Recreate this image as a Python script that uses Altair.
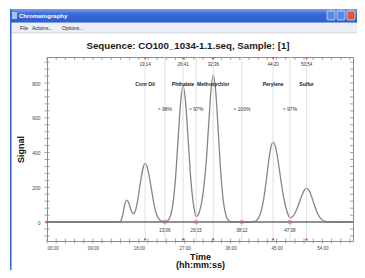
import altair as alt
import pandas as pd

# ---------------- data ----------------
time_min = [0, 14.0, 14.4, 14.8, 15.2, 15.6, 16.0, 16.4, 16.9, 17.3, 17.7, 18.1, 18.5, 18.9,
            19.25, 19.6, 20.0, 20.5, 21.0, 21.5, 22.0, 22.5, 23.1, 23.7, 24.2, 24.7, 25.2,
            25.7, 26.2, 26.68, 27.2, 27.7, 28.2, 28.7, 29.0, 29.25, 29.5, 29.9, 30.3, 30.7,
            31.2, 31.7, 32.2, 32.6, 33.1, 33.6, 34.1, 34.6, 35.1, 35.6, 36.1, 37.0, 40.0,
            40.5, 41.0, 41.5, 42.0, 42.5, 43.0, 43.5, 44.0, 44.33, 44.8, 45.3, 45.8, 46.3,
            46.8, 47.2, 47.63, 48.0, 48.5, 49.0, 49.5, 50.0, 50.5, 50.9, 51.4, 51.9, 52.4,
            52.9, 53.4, 53.9, 54.4, 55.0, 55.5, 60.0]
signal = [0, 0, 4, 35, 95, 126, 112, 75, 48, 62, 110, 185, 260, 318,
          338, 320, 270, 185, 100, 42, 15, 5, 2, 9, 34, 106, 253,
          473, 688, 785, 680, 465, 245, 105, 55, 32, 35, 60, 110, 190,
          340, 560, 770, 845, 746, 513, 274, 114, 37, 9, 2, 0, 0,
          2, 8, 25, 63, 135, 241, 358, 442, 460, 433, 355, 254, 159,
          88, 48, 25, 28, 45, 75, 115, 155, 185, 195, 181, 145, 100,
          60, 31, 14, 5, 2, 0, 0]

peak_names = ["Corn Oil", "Phthalate", "Methoxychlor", "Perylene", "Sulfur"]
peak_times = [19.23, 26.68, 32.6, 44.33, 50.9]
peak_time_labels = ["19:14", "26:41", "32:36", "44:20", "50:54"]
valley_times = [23.1, 29.25, 38.2, 47.63]
valley_time_labels = ["23:06", "29:15", "38:12", "47:38"]
purity_labels = ["> 98%", "> 97%", "> 100%", "> 97%"]

x_tick_values = [0, 9, 18, 27, 36, 45, 54]
x_tick_labels = ["00:00", "09:00", "18:00", "27:00", "36:00", "45:00", "54:00"]
y_tick_values = [0, 200, 400, 600, 800]
x_minor_step = 1.8
y_minor_step = 40

title_text = "Sequence: CO100_1034-1.1.seq, Sample: [1]"
window_title = "Chromatography"
menu_items = ["File", "Actions...", "Options..."]

# ---------------- tables ----------------
W, H = 306, 184
FONT = "Liberation Sans"

curve = pd.DataFrame({"t": time_min, "v": signal})
peaks = pd.DataFrame({"t": peak_times, "name": peak_names, "lab": peak_time_labels})
valleys = pd.DataFrame({"t": valley_times, "lab": valley_time_labels,
                        "pct": purity_labels, "v": [0] * len(valley_times)})
marks_t = pd.DataFrame({"t": peak_times + valley_times})
x_minor = pd.DataFrame({"t": [round(i * x_minor_step, 2) for i in range(int(60 / x_minor_step) + 1)]})
y_minor = pd.DataFrame({"v": list(range(-80, 950, y_minor_step))})
zero = pd.DataFrame({"v": [0], "t": [0]})
one = pd.DataFrame({"k": [0]})

xs = alt.Scale(domain=[0, 60], nice=False, zero=False)
ys = alt.Scale(domain=[-109, 950], nice=False, zero=False)

arr_vals = "[" + ",".join(str(v) for v in x_tick_values) + "]"
arr_labs = "[" + ",".join("'" + s + "'" for s in x_tick_labels) + "]"
x_label_expr = f"{arr_labs}[indexof({arr_vals}, datum.value)]"

x_axis = alt.Axis(
    values=x_tick_values, labelExpr=x_label_expr, ticks=False, domain=False,
    grid=False, labelFontSize=4.5, labelColor="#444", labelPadding=4, labelFont=FONT,
    title=["Time", "(hh:mm:ss)"], titleFont=FONT, titleFontSize=9, titleFontWeight="bold",
    titleColor="#111", titleX=W / 2, titleY=18, titleBaseline="alphabetic", titleAlign="center",
    titleLineHeight=8.5)
y_axis = alt.Axis(
    values=y_tick_values, ticks=False, domain=False, grid=False,
    labelFontSize=5, labelColor="#444", labelPadding=7, labelFont=FONT,
    title="Signal", titleFont=FONT, titleFontSize=9, titleFontWeight="bold", titleColor="#111",
    titleAngle=270, titleX=-27, titleY=H / 2, titleAlign="center", titleBaseline="middle")


def X(f="t"):
    return alt.X(f"{f}:Q", scale=xs, axis=x_axis)


def Y(f="v"):
    return alt.Y(f"{f}:Q", scale=ys, axis=y_axis)


# vertical guide lines at peaks and valleys
vlines = alt.Chart(marks_t).mark_rule(color="#d9d9d9", strokeWidth=0.8).encode(x=X())

# baseline
baseline = alt.Chart(zero).mark_rule(color="#6e6e6e", strokeWidth=1.6).encode(y=Y())

# chromatogram curve
line = alt.Chart(curve).mark_line(color="#858585", strokeWidth=1.3, interpolate="monotone").encode(
    x=X(), y=Y())

# red markers
top_marks = alt.Chart(peaks).mark_point(shape="triangle-down", filled=True, size=10,
                                        color="#e0404a", opacity=1).encode(x=X(), y=alt.value(1.5))
bot_marks = alt.Chart(peaks).mark_point(shape="triangle-up", filled=True, size=10,
                                        color="#e0404a", opacity=1).encode(x=X(), y=alt.value(H - 2))
valley_marks = alt.Chart(valleys).mark_point(shape="circle", filled=False, size=14,
                                             color="#e06070", strokeWidth=0.9).encode(x=X(), y=Y())
zero_mark = alt.Chart(zero).mark_point(shape="triangle-right", filled=True, size=10,
                                       color="#e0404a", opacity=1).encode(x=X(), y=Y())

# annotation texts
txt = dict(font=FONT, align="center", baseline="middle")
peak_time_txt = alt.Chart(peaks).mark_text(fontSize=4.5, color="#333", **txt).encode(
    x=X(), y=alt.value(8), text="lab:N")
peak_name_txt = alt.Chart(peaks).mark_text(fontSize=5, fontWeight="bold", color="#222", **txt).encode(
    x=X(), y=alt.value(27), text="name:N")
pct_txt = alt.Chart(valleys).mark_text(fontSize=5, color="#333", **txt).encode(
    x=X(), y=alt.value(52), text="pct:N")
valley_txt = alt.Chart(valleys).mark_text(fontSize=4.5, color="#333", **txt).encode(
    x=X(), y=alt.value(174), text="lab:N")

# frame ticks
tick_c = "#8c8c8c"
yl = alt.Chart(y_minor).mark_rule(color=tick_c, strokeWidth=0.8).encode(
    y=Y(), x=alt.value(-2.5), x2=alt.value(2.5))
yr = alt.Chart(y_minor).mark_rule(color=tick_c, strokeWidth=0.8).encode(
    y=Y(), x=alt.value(W - 3), x2=alt.value(W))
xb = alt.Chart(x_minor).mark_rule(color=tick_c, strokeWidth=0.8).encode(
    x=X(), y=alt.value(H - 2.5), y2=alt.value(H + 2.5))
xt = alt.Chart(x_minor).mark_rule(color=tick_c, strokeWidth=0.8).encode(
    x=X(), y=alt.value(0), y2=alt.value(3))

# chart title
title = alt.Chart(one).mark_text(font=FONT, fontSize=9.7, fontWeight="bold", color="#1a1a1a",
                                 align="center", baseline="alphabetic").encode(
    x=alt.value(141), y=alt.value(-8), text=alt.value(title_text))

# window chrome (decoration)
grad = {"x1": 0, "y1": 0, "x2": 0, "y2": 1, "gradient": "linear",
        "stops": [{"offset": 0, "color": "#79a2ec"}, {"offset": 0.35, "color": "#3a6cd8"},
                  {"offset": 1, "color": "#2b5dcc"}]}


def rect(x, x2, y, y2, color, **kw):
    return alt.Chart(one).mark_rect(**kw).encode(
        x=alt.value(x), x2=alt.value(x2), y=alt.value(y), y2=alt.value(y2), color=alt.value(color))


def label(s, x, y, **kw):
    return alt.Chart(one).mark_text(font=FONT, align="left", baseline="middle", **kw).encode(
        x=alt.value(x), y=alt.value(y), text=alt.value(s))


titlebar = rect(-37, 320, -48, -34.3, grad)
menubar = rect(-35.5, 320, -34.3, -24, "#eceff5")
menuline = rect(-35.5, 320, -24.5, -23.8, "#c5cad6")
leftborder = rect(-37, -35.5, -48, 215, "#3465d4")
icon = rect(-35, -30, -45, -38, "#a8c2ee")
btn_min = rect(280, 288, -46, -37, "#5a88e4", stroke="white", strokeWidth=0.6, cornerRadius=1)
btn_max = rect(290, 298, -46, -37, "#5a88e4", stroke="white", strokeWidth=0.6, cornerRadius=1)
btn_close = rect(300, 308, -46, -37, "#e0583a", stroke="white", strokeWidth=0.6, cornerRadius=1)
win_title = label(window_title, -28, -41, fontSize=6, fontWeight="bold", color="white")
menu_layers = [label(m, px, -29, fontSize=5, color="#222")
               for m, px in zip(menu_items, [-27, -15, 15])]

chart = alt.layer(
    line, vlines, baseline, valley_marks, top_marks, bot_marks, zero_mark,
    peak_time_txt, peak_name_txt, pct_txt, valley_txt,
    yl, yr, xb, xt, title,
    titlebar, menubar, menuline, leftborder, icon, btn_min, btn_max, btn_close, win_title,
    *menu_layers,
).properties(
    width=W, height=H,
    autosize=alt.AutoSizeParams(type="none"),
    padding={"left": 39, "top": 49, "right": 4, "bottom": 29},
    background="white",
).configure_view(stroke="#8c8c8c", strokeWidth=1)

chart.save("out.html", embed_options={"renderer": "svg", "actions": False})
